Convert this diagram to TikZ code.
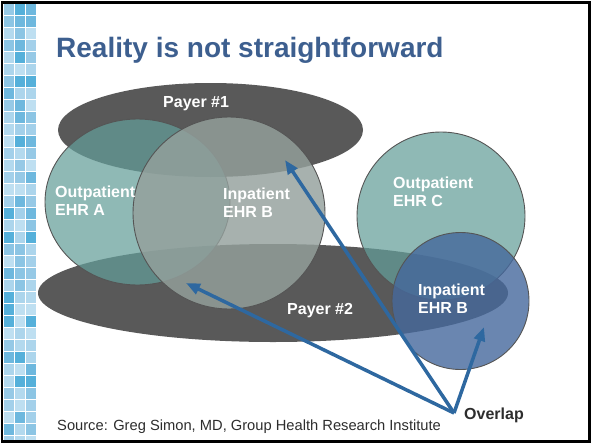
\documentclass[tikz,border=0pt]{standalone}
\usepackage{fontspec}
\setmainfont{Liberation Sans}
\usetikzlibrary{shapes.geometric,arrows.meta}
\definecolor{payergray}{RGB}{89,89,89}
\definecolor{tealfill}{RGB}{100,158,153}
\definecolor{grayfill}{RGB}{148,160,156}
\definecolor{bluefill}{RGB}{69,104,156}
\definecolor{rimgray}{RGB}{85,85,85}
\definecolor{arrowblue}{RGB}{46,104,160}
\definecolor{titleblue}{RGB}{61,95,143}
\definecolor{textgray}{RGB}{45,45,45}
\definecolor{tile1}{RGB}{179,217,238}
\definecolor{tile2}{RGB}{190,223,241}
\definecolor{tile3}{RGB}{163,208,234}
\definecolor{tile4}{RGB}{172,213,236}
\definecolor{tile5}{RGB}{150,201,230}
\definecolor{tile6}{RGB}{140,197,228}
\definecolor{tile7}{RGB}{110,184,222}
\definecolor{tile8}{RGB}{85,176,218}
\begin{document}
\begin{tikzpicture}[x=1pt, y=-1pt, >={Triangle[length=14pt, width=11pt]},
  payer/.style={ellipse, fill=payergray, inner sep=0pt},
  ehr/.style={ellipse, draw=rimgray, line width=0.9pt, inner sep=0pt},
  lbl/.style={anchor=base west, align=left, inner sep=0pt, text=white, font=\bfseries\fontsize{16}{18.5}\selectfont},
  pointer/.style={->, draw=arrowblue, line width=3.5pt}]
\useasboundingbox (0,0) rectangle (591,444);

% tiles on the left edge
\pgfmathsetseed{12}
\begin{scope}
\clip (4,4) rectangle (37,441);
\foreach \r in {0,...,36}{
  \foreach \c in {0,1,2}{
    \pgfmathrandominteger{\k}{1}{8}
    \fill[tile\k] (4+11*\c,4+12*\r) rectangle ++(10,11);
  }
}
\end{scope}

% payers
\node[payer, minimum width=305pt, minimum height=94pt] (payerA) at (210.5,130) {};
\node[payer, minimum width=470pt, minimum height=98pt] (payerB) at (273,293) {};

% EHR systems
\node[ehr, fill=tealfill, fill opacity=0.72, minimum width=185pt, minimum height=166pt] (outA) at (137.5,202) {};
\node[ehr, fill=grayfill, fill opacity=0.82, minimum width=192pt, minimum height=192pt] (inB) at (229,213) {};
\node[ehr, fill=tealfill, fill opacity=0.72, minimum width=168pt, minimum height=168pt] (outC) at (441,216) {};
\node[ehr, fill=bluefill, fill opacity=0.8, minimum width=137pt, minimum height=137pt] (inBb) at (460.5,301) {};

% labels (base = last line)
\node[lbl] (payerAtxt) at (163,107) {Payer \#1};
\node[lbl] (payerBtxt) at (287,314) {Payer \#2};
\node[lbl] (outAtxt) at (55,215.5) {Outpatient\\EHR A};
\node[lbl] (inBtxt) at (223,217.5) {Inpatient\\EHR B};
\node[lbl] (outCtxt) at (393,206.5) {Outpatient\\EHR C};
\node[lbl] (inBbtxt) at (418,313.5) {Inpatient\\EHR B};

% overlap pointers
\coordinate (ov) at (454,413);
\coordinate (tipA) at (285,160);
\coordinate (tipB) at (186,283);
\coordinate (tipC) at (484,327);
\draw[pointer] (ov) -- (tipA);
\draw[pointer] (ov) -- (tipB);
\draw[pointer] (ov) -- (tipC);
\node[anchor=base west, inner sep=0pt, text=textgray, font=\bfseries\fontsize{16}{19}\selectfont] (overlap) at (464,419) {Overlap};

% title and source
\node[anchor=base west, inner sep=0pt, text=titleblue, font=\bfseries\fontsize{28}{32}\selectfont] (title) at (56,58) {Reality is not straightforward};
\node[anchor=base west, inner sep=0pt, text=textgray, font=\fontsize{14.7}{17}\selectfont] (source) at (57,430) {Source: Greg Simon, MD, Group Health Research Institute};

% frame
\draw[line width=2.5pt] (2,2.5) rectangle (589.5,441.5);
\end{tikzpicture}
\end{document}
